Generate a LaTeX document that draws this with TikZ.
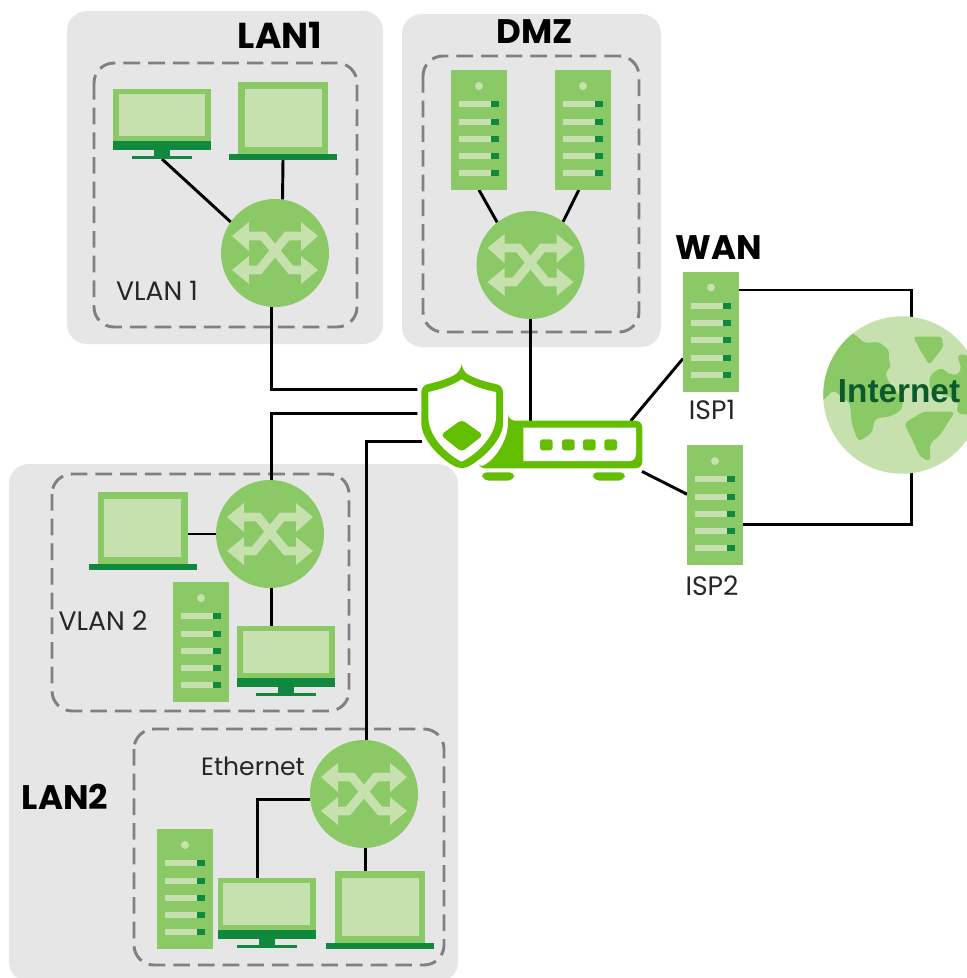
\documentclass[tikz,border=0pt]{standalone}
\usepackage{fontspec}
\setmainfont{Poppins}
\newfontfamily\inetfont{Liberation Sans}
\usetikzlibrary{calc}
\definecolor{gpanel}{HTML}{E6E6E6}
\definecolor{gdash}{HTML}{808080}
\definecolor{lgreen}{HTML}{C6E1AD}
\definecolor{mgreen}{HTML}{8BC866}
\definecolor{dgreen}{HTML}{10893E}
\definecolor{rgreen}{HTML}{64BE00}
\definecolor{tgreen}{HTML}{0B5A2B}
\pgfdeclarelayer{panels}
\pgfdeclarelayer{wires}
\pgfsetlayers{panels,wires,main}
\tikzset{
  x=0.75pt,y=-0.75pt,
  panel/.style={fill=gpanel,rounded corners=15pt},
  vlanbox/.style={draw=gdash,line width=2.2pt,dash pattern=on 12.5pt off 6pt,rounded corners=15pt},
  wire/.style={draw=black,line width=2.2pt},
  devbox/.style={inner sep=0pt,outer sep=0pt,rectangle},
  swnode/.style={circle,fill=mgreen,inner sep=0pt,outer sep=0pt,minimum size=81pt},
  srvnode/.style={devbox,fill=mgreen,minimum width=42pt,minimum height=90pt},
  small/.style={font=\fontsize{20}{23}\selectfont,text=black!85,inner sep=0pt},
  big/.style={font=\fontsize{25.5}{28}\selectfont\bfseries,text=black,inner sep=0pt},
}
\newcommand{\switchdev}[3]{%
  \node[swnode] (#1) at (#2,#3) {};
  \begin{scope}[shift={(#2,#3)}]
    \draw[lgreen,line width=6.6pt] (-28,-17)--(-12,-17)--(16,17)--(28,17);
    \draw[lgreen,line width=6.6pt] (-28,17)--(-16,17)--(12,-17)--(28,-17);
    \fill[lgreen] (-43,-17)--(-26,-31)--(-26,-2)--cycle;
    \fill[lgreen] (-43,17)--(-26,3)--(-26,31)--cycle;
    \fill[lgreen] (43,-17)--(26,-31)--(26,-2)--cycle;
    \fill[lgreen] (43,17)--(26,3)--(26,31)--cycle;
  \end{scope}}
\newcommand{\serverdev}[3]{%
  \node[srvnode] (#1) at (#2,#3) {};
  \begin{scope}[shift={(#2,#3)}]
    \fill[lgreen] (0,-44) circle[radius=4];
    \foreach \yy in {-26,-8.5,8.5,26,43}{
      \fill[lgreen] (-20,\yy-3) rectangle (12,\yy+3);
      \fill[dgreen] (12,\yy-3) rectangle (20,\yy+3);
    }
  \end{scope}}
\newcommand{\monitordev}[3]{%
  \node[devbox,minimum width=73.5pt,minimum height=52.5pt] (#1) at (#2,#3) {};
  \begin{scope}[shift={(#2,#3)}]
    \fill[mgreen] (-49,-35) rectangle (49,17);
    \fill[lgreen] (-43.5,-30) rectangle (43,12);
    \fill[dgreen] (-49,17) rectangle (49,26);
    \fill[dgreen] (-8,26) rectangle (8,32);
    \fill[dgreen] (-30,31.5) rectangle (30,35);
  \end{scope}}
\newcommand{\laptopdev}[3]{%
  \node[devbox,minimum width=81pt,minimum height=58.5pt] (#1) at (#2,#3) {};
  \begin{scope}[shift={(#2,#3)}]
    \fill[mgreen] (-45,-39) rectangle (45,33);
    \fill[lgreen] (-38.5,-32) rectangle (38.5,26);
    \fill[dgreen] (-54,33) rectangle (54,39);
  \end{scope}}
\begin{document}
\begin{tikzpicture}
\useasboundingbox (0,0) rectangle (967,978);
\begin{pgfonlayer}{panels}
  \fill[white] (0,0) rectangle (967,978);
  \begin{scope}
    \clip (0,0) rectangle (967,978);
    \fill[panel] (67,11) rectangle (383,344);
    \fill[panel] (402,14) rectangle (661,347);
    \fill[panel] (9,464) rectangle (458,982);
  \end{scope}
  \draw[vlanbox] (94,63) rectangle (357,327);
  \draw[vlanbox] (423,56) rectangle (639,332);
  \draw[vlanbox] (52,474) rectangle (349,711);
  \draw[vlanbox] (134,729) rectangle (444,965);
\end{pgfonlayer}

% LAN1
\monitordev{monA}{162}{124}
\laptopdev{lapA}{283}{121}
\switchdev{swA}{275}{253}
% DMZ
\serverdev{srvB}{479}{130}
\serverdev{srvC}{583}{130}
\switchdev{swB}{530.5}{265}
% LAN2 VLAN2
\laptopdev{lapC}{142.5}{531}
\serverdev{srvD}{201}{642}
\monitordev{monC}{286}{661}
\switchdev{swC}{270}{534}
% LAN2 Ethernet
\serverdev{srvE}{185}{889}
\monitordev{monD}{266.5}{913}
\laptopdev{lapD}{380}{910}
\switchdev{swD}{364}{794}
% WAN
\serverdev{ispA}{711}{331.5}
\serverdev{ispB}{715}{505}

% Internet
\node[circle,inner sep=0pt,outer sep=0pt,minimum size=118pt] (globe) at (902,395) {};
\begin{scope}
  \clip (0,0) rectangle (967,978);
  \fill[lgreen] (902,395) circle[radius=78.7];
  \clip (902,395) circle[radius=78.7];
  \begin{scope}[shift={(820,310)},x=0.25pt,y=-0.25pt]
    \fill[mgreen,rounded corners=3pt] (100,70)--(135,100)--(175,95)--(208,120)--(205,150)--(215,170)--(195,185)--(205,215)--(250,270)--(245,300)--(210,320)--(165,325)--(155,370)--(115,395)--(95,340)--(90,280)--(40,240)--(5,275)--(5,70)--cycle;
    \fill[mgreen,rounded corners=2pt] (280,80)--(365,80)--(370,110)--(328,165)--(300,120)--cycle;
    \fill[mgreen,rounded corners=3pt] (330,195)--(365,172)--(385,192)--(415,195)--(425,170)--(412,145)--(420,130)--(450,140)--(450,315)--(410,310)--(415,270)--(330,240)--(328,215)--cycle;
    \fill[mgreen,rounded corners=3pt] (252,340)--(310,305)--(405,305)--(360,375)--(330,400)--(330,455)--(300,440)--(275,385)--cycle;
  \end{scope}
\end{scope}
\node[font=\inetfont\fontsize{25}{27}\selectfont\bfseries,text=tgreen,inner sep=0pt] (inetlabel) at (899,391) {Internet};

% Router
\node[devbox,minimum width=123pt,minimum height=45pt] (router) at (560,451) {};
\begin{scope}[shift={(400,350)},x=0.25pt,y=-0.25pt]
  \fill[rgreen,rounded corners=5pt] (325,212)--(727,212)--(727,355)--(235,355)--(235,355)..controls(290,325)and(320,270)..(325,212)--cycle;
  \fill[white] (370,233)--(708,233)--(708,310)..controls(708,325)and(700,333)..(690,333)--(370,333)--cycle;
  \foreach \lx in {420,486,549,613}{
    \fill[rgreen,rounded corners=2pt] (\lx,268) rectangle (\lx+38,301);
  }
  \fill[rgreen,rounded corners=4pt] (243,367)--(345,367)--(340,392)--(250,392)--cycle;
  \fill[rgreen,rounded corners=4pt] (575,367)--(678,367)--(672,392)--(582,392)--cycle;
\end{scope}
% Shield
\node[devbox,minimum width=60.75pt,minimum height=73.5pt] (shield) at (462.5,420) {};
\begin{scope}[shift={(400,350)},x=0.25pt,y=-0.25pt]
  \fill[white] (185,50)..controls(225,80)and(270,92)..(320,100)--(320,200)..controls(320,280)and(250,340)..(185,372)..controls(120,340)and(52,280)..(52,200)--(52,100)..controls(100,92)and(145,80)..(185,50)--cycle;
  \fill[rgreen,rounded corners=5pt] (185,60)..controls(220,85)and(265,98)..(309,106)--(309,200)..controls(309,270)and(245,330)..(185,359)..controls(125,330)and(64,270)..(64,200)--(64,106)..controls(105,98)and(150,85)..(185,60)--cycle;
  \fill[white] (185,88)..controls(215,108)and(255,120)..(288,126)--(288,200)..controls(288,255)and(235,310)..(185,335)..controls(135,310)and(85,255)..(85,200)--(85,126)..controls(115,120)and(155,108)..(185,88)--cycle;
  \fill[rgreen,rounded corners=3pt] (185,209)--(250,255)--(185,306)--(122,255)--cycle;
\end{scope}

% Connectors
\begin{pgfonlayer}{wires}
  \draw[wire] (monA.south) -- (swA.145);
  \draw[wire] (lapA.south) -- (swA.82);
  \draw[wire] (srvB.south) -- (swB.128);
  \draw[wire] (srvC.-94.8) -- (swB.53);
  \draw[wire] (swA.-94) |- (shield.143.5);
  \draw[wire] (swC.88) |- (shield.171.6);
  \draw[wire] (swD.87) |- (shield.208.5);
  \draw[wire] (swB.south) -- (swB.south |- router.north);
  \draw[wire] (router.23.8) -- (ispA.224.5);
  \draw[wire] (router.-14.5) -- (ispB.159.7);
  \draw[wire] (ispA.56.6) -| (globe.83.5);
  \draw[wire] (ispB.-35.5) -| (globe.-83.5);
  \draw[wire] (lapC.center |- swC.west) -- (swC.west);
  \draw[wire] (swC.-88) -- (swC.-88 |- monC.north);
  \draw[wire] (swD.186) -| (monD.105.2);
  \draw[wire] (swD.-88) -- (swD.-88 |- lapD.north);
\end{pgfonlayer}

% Labels
\node[big,font=\fontsize{27}{30}\selectfont\bfseries] (lbA) at (280,35.5) {LAN1};
\node[big] (lbB) at (535,32) {DMZ};
\node[big] (lbC) at (719,248) {WAN};
\node[big] (lbD) at (65,797) {LAN2};
\node[small] (lbE) at (157,291) {VLAN 1};
\node[small] (lbF) at (103,621) {VLAN 2};
\node[small,font=\fontsize{18.8}{22}\selectfont] (lbG) at (253,766) {Ethernet};
\node[small] (lbH) at (712,410) {ISP1};
\node[small] (lbI) at (712,586) {ISP2};
\end{tikzpicture}
\end{document}
